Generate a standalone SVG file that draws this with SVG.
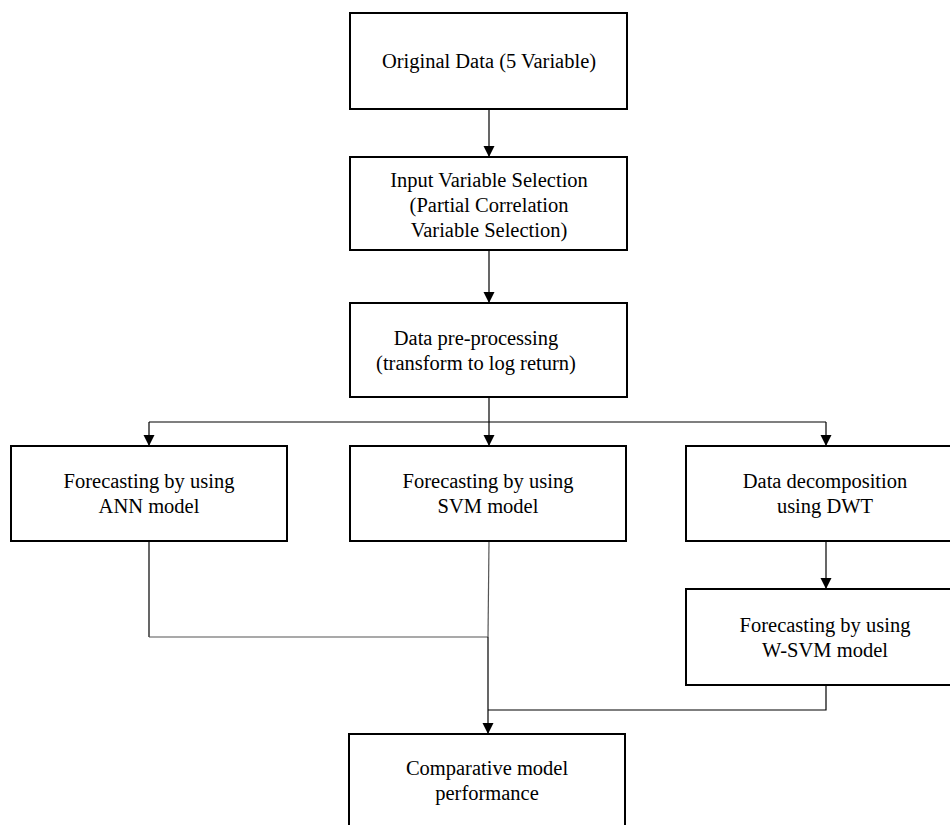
<svg xmlns="http://www.w3.org/2000/svg" width="950" height="825" viewBox="0 0 950 825">
<style>
.box{fill:#fff;stroke:#000;stroke-width:2}
.lbl{font-family:"Liberation Serif","Times New Roman",serif;font-size:20.5px;fill:#000;text-anchor:middle}
.con{fill:none;stroke:#000;stroke-width:1.2}
.con2{fill:none;stroke:#555;stroke-width:1.2}
</style>
<defs>
<marker id="arr" markerUnits="userSpaceOnUse" markerWidth="11" markerHeight="12" refX="11" refY="5.5" orient="auto">
<path d="M0,0 L11,5.5 L0,11 z" fill="#000"/>
</marker>
</defs>
<rect width="950" height="825" fill="#fff"/>
<g id="connectors">
<path class="con" d="M489,109 V157" marker-end="url(#arr)"/>
<path class="con" d="M489,250 V303" marker-end="url(#arr)"/>
<path class="con" d="M489,397 V422"/>
<path class="con" d="M149,422 H826"/>
<path class="con" d="M149,422 V446" marker-end="url(#arr)"/>
<path class="con" d="M489,422 V446" marker-end="url(#arr)"/>
<path class="con" d="M826,422 V446" marker-end="url(#arr)"/>
<path class="con" d="M149,541 V637"/>
<path class="con2" d="M149,637 H488"/>
<path class="con2" d="M489,541 L488,637"/>
<path class="con" d="M488,637 V734" marker-end="url(#arr)"/>
<path class="con" d="M826,541 V589" marker-end="url(#arr)"/>
<path class="con" d="M826,685 V710 H488"/>
</g>
<g id="original-data">
<rect class="box" x="350" y="13" width="277" height="96"/>
<text class="lbl" x="489" y="68">Original Data (5 Variable)</text>
</g>
<g id="input-variable-selection">
<rect class="box" x="350" y="157" width="277" height="93"/>
<text class="lbl" x="489" y="187">Input Variable Selection</text>
<text class="lbl" x="489" y="212">(Partial Correlation</text>
<text class="lbl" x="489" y="237">Variable Selection)</text>
</g>
<g id="data-preprocessing">
<rect class="box" x="350" y="303" width="277" height="94"/>
<text class="lbl" x="476" y="345">Data pre-processing</text>
<text class="lbl" x="476" y="370">(transform to log return)</text>
</g>
<g id="ann">
<rect class="box" x="11" y="446" width="276" height="95"/>
<text class="lbl" x="149" y="488">Forecasting by using</text>
<text class="lbl" x="149" y="513">ANN model</text>
</g>
<g id="svm">
<rect class="box" x="350" y="446" width="276" height="95"/>
<text class="lbl" x="488" y="488">Forecasting by using</text>
<text class="lbl" x="488" y="513">SVM model</text>
</g>
<g id="dwt">
<rect class="box" x="686" y="446" width="276" height="95"/>
<text class="lbl" x="825" y="488">Data decomposition</text>
<text class="lbl" x="825" y="513">using DWT</text>
</g>
<g id="wsvm">
<rect class="box" x="686" y="589" width="276" height="96"/>
<text class="lbl" x="825" y="632">Forecasting by using</text>
<text class="lbl" x="825" y="657">W-SVM model</text>
</g>
<g id="comparative">
<rect class="box" x="349" y="734" width="276" height="100"/>
<text class="lbl" x="487" y="775">Comparative model</text>
<text class="lbl" x="487" y="800">performance</text>
</g>
</svg>
